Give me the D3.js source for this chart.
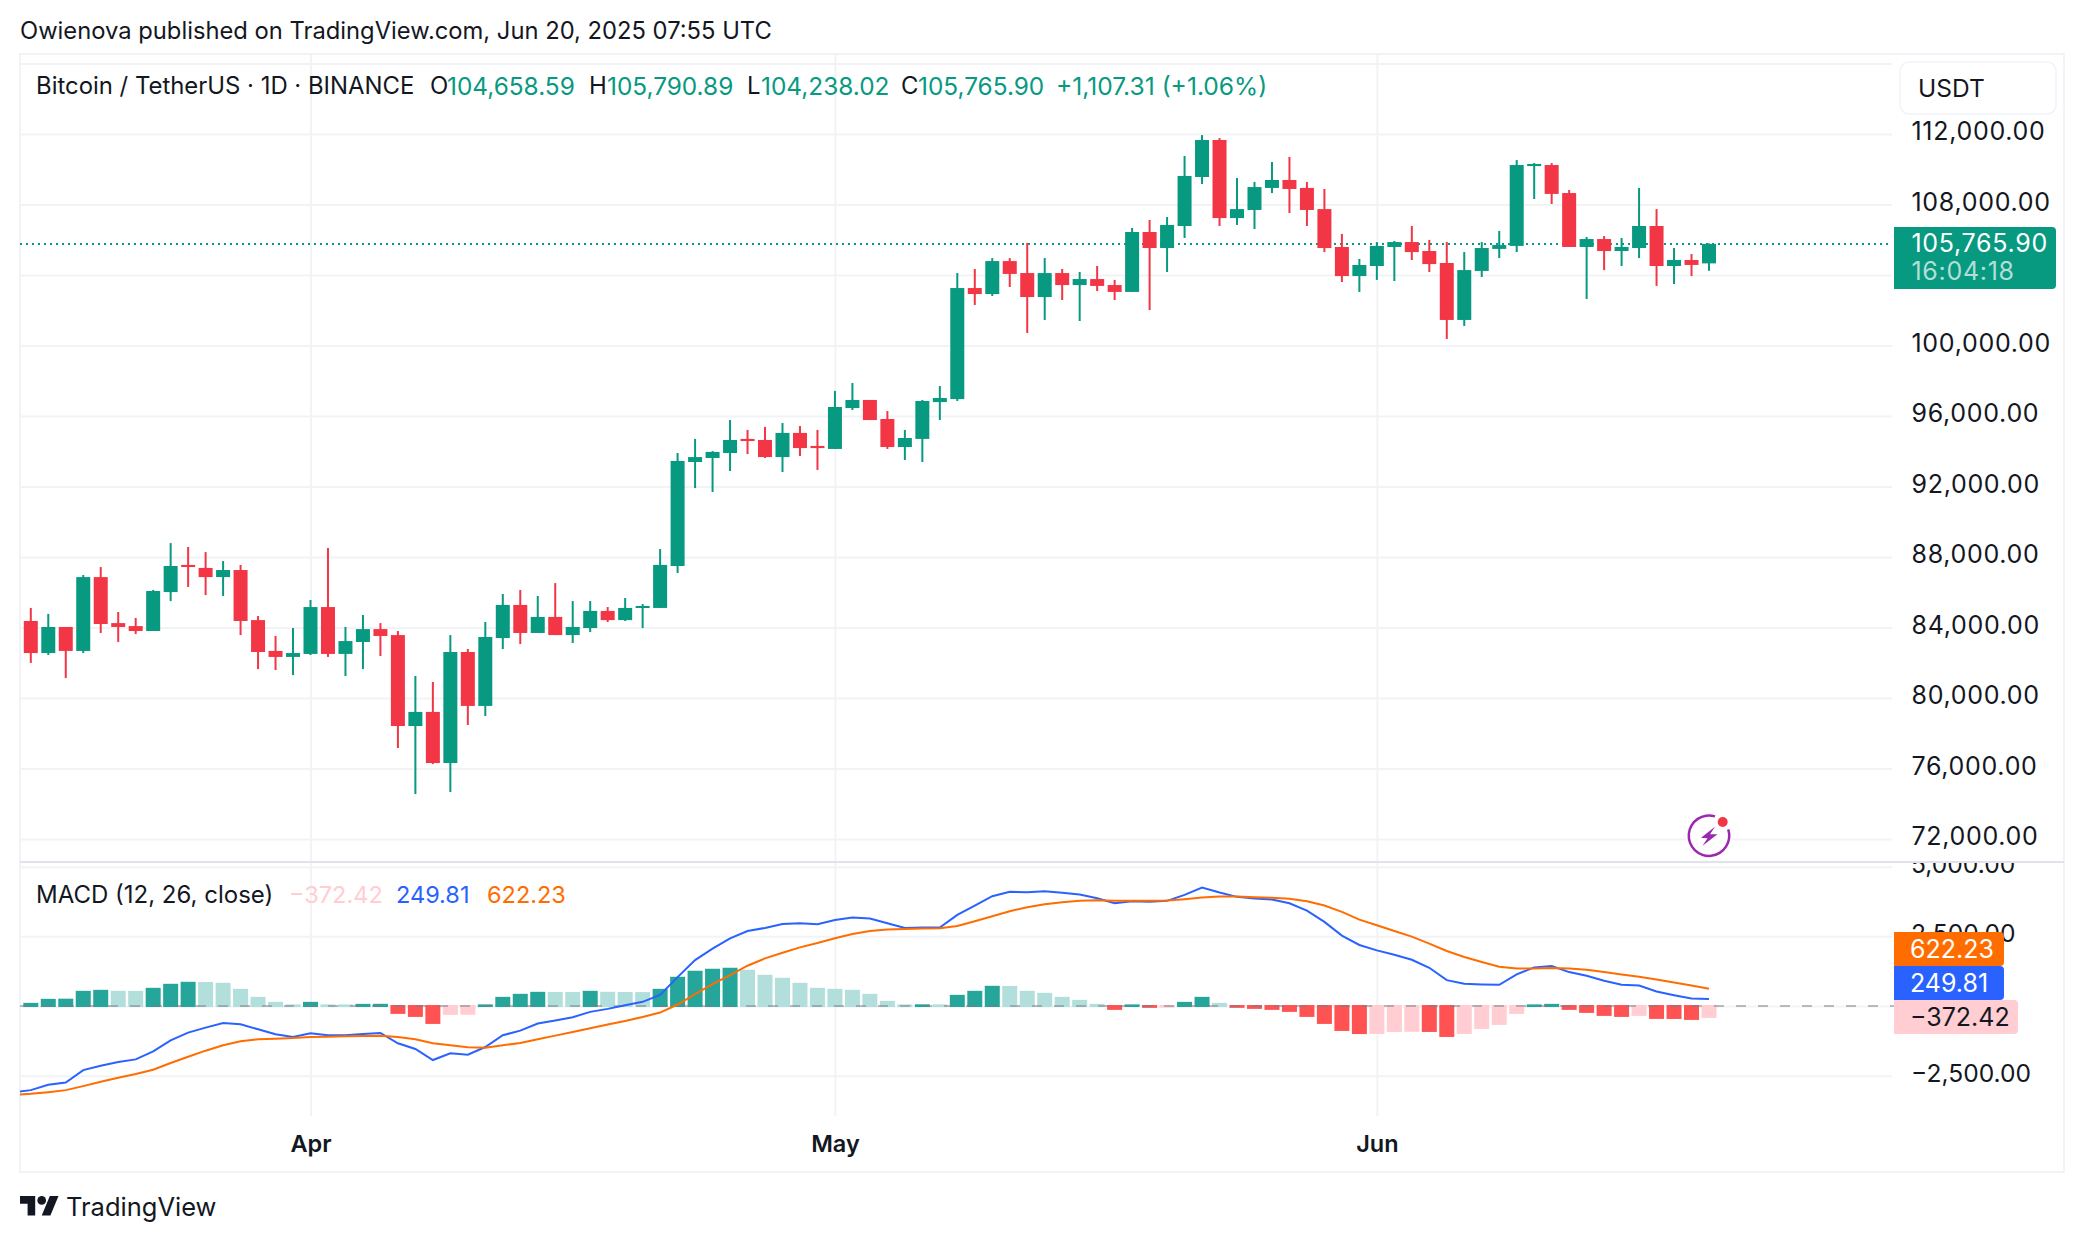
<!DOCTYPE html>
<html>
<head>
<meta charset="utf-8">
<script src="https://cdn.jsdelivr.net/npm/d3@7"></script>
<style>
  html, body { margin: 0; padding: 0; background: #fff; }
  svg { display: block; }
  text { font-family: Inter, "Noto Sans", sans-serif; fill: #131722; }
</style>
</head>
<body>
<svg id="chart" width="2084" height="1242"></svg>
<script>
const firstDay = '2025-03-16';
const lastDay = '2025-06-20';
const monthTicks = ['2025-04-01', '2025-05-01', '2025-06-01'];
const priceTicks = [72000, 76000, 80000, 84000, 88000, 92000, 96000, 100000, 104000, 108000, 112000, 116000];
const macdTicks = [-2500, 0, 2500, 5000];

const open = [84370,82550,84030,82670,86860,84250,84080,83800,86010,87550,87380,86860,87260,84420,82670,82330,82500,85160,82500,83180,83910,83570,78410,79210,76310,82610,79550,83400,85280,83690,84600,83570,83970,84940,84420,85110,85110,87490,93390,93620,93900,94700,94640,93670,95040,94300,94130,96450,96910,95830,94240,94700,96790,96960,103260,102920,104790,104110,102750,104110,103430,103770,103430,103040,106440,105530,106780,109560,111660,107230,107690,108940,109390,108940,107740,105590,103940,104510,105590,105870,105360,104680,101450,104230,105480,105650,110180,110240,108650,105590,106040,105360,105530,106780,104510,104850,104658.59];
const high = [85110,84770,84030,86980,87430,84880,84540,86130,88790,88570,88280,87770,87550,84650,83520,83970,85560,88510,84030,84710,84250,83800,81250,80910,83570,82780,84310,85900,86130,85790,86520,85500,85500,85160,85670,85330,88450,93900,94700,94010,95770,95210,95380,95600,95430,95210,97420,97870,96910,96280,95210,96910,97700,104110,104340,104960,104960,105820,104960,104340,104170,104510,103720,106670,107120,107290,110750,111940,111770,109500,109280,110410,110700,109280,108880,106330,104910,105870,105930,106780,105990,105870,105300,105870,106500,110520,110350,110350,108820,106160,106210,106100,108940,107740,105530,105190,105790.89];
const low = [81990,82440,81130,82550,83690,83180,83630,83800,85500,86300,85840,85790,83570,81640,81590,81300,82440,82330,81250,81640,82380,77160,74550,76250,74670,78470,78980,82780,83060,83690,83570,83120,83740,84310,84370,83970,85110,87090,91910,91690,92880,93840,93620,92820,93730,92940,94130,96340,95770,94130,93500,93390,95770,96850,102300,102810,103320,100710,101450,102580,101390,103090,102580,103040,102010,104170,106100,109160,106780,106840,106610,108650,107520,106780,105300,103600,103040,103720,103660,104850,104170,100370,101110,103890,104960,105300,108310,108030,105590,102640,104280,104510,104960,103380,103490,103940,104238.02];
const close = [82550,84030,82670,86860,84200,84030,83800,86070,87490,87430,86860,87260,84370,82610,82330,82550,85160,82500,83230,83910,83520,78410,79210,76310,82610,79550,83460,85280,83690,84600,83570,84030,84940,84420,85110,85220,87550,93450,93670,93960,94640,94580,93670,95040,94180,94180,96510,96910,95770,94240,94750,96850,97020,103260,102920,104790,104060,102750,104110,103430,103770,103380,103040,106440,105530,106840,109620,111660,107230,107740,108990,109390,108880,107690,105530,103940,104570,105650,105870,105300,104620,101450,104280,105530,105700,110240,110300,108600,105590,106040,105360,105590,106780,104510,104850,104570,105765.90];

const histogram = [60,204,210,492,528,492,490,600,744,816,810,780,564,276,96,5,96,5,4,24,26,-228,-336,-588,-264,-260,5,276,384,456,450,448,492,456,450,446,564,996,1212,1284,1320,1248,1068,960,780,600,564,528,384,132,5,8,5,348,492,672,668,492,420,276,168,24,-84,5,-12,-5,96,276,60,-12,-48,-84,-156,-336,-588,-840,-952,-948,-876,-870,-876,-1056,-948,-768,-624,-228,5,24,-84,-192,-300,-336,-300,-408,-410,-444,-372.42];
// macd and signal carry one extra leading day (Mar 15), its candle is off the chart
const macd = [-3102,-3018,-2826,-2742,-2298,-2142,-2010,-1914,-1626,-1230,-954,-774,-606,-654,-834,-1014,-1110,-978,-1050,-1050,-1002,-966,-1338,-1542,-1938,-1698,-1746,-1470,-1050,-882,-630,-522,-402,-210,-102,30,150,402,1038,1650,2058,2430,2694,2802,2946,2970,2934,3090,3174,3138,2970,2802,2814,2814,3270,3606,3942,4098,4086,4122,4062,4002,3870,3690,3762,3738,3774,3990,4254,4074,3918,3858,3822,3690,3426,3018,2526,2190,1998,1842,1662,1374,930,798,774,762,1134,1386,1434,1218,1086,906,762,738,522,390,270,249.81];
const signal = [-3186,-3150,-3090,-3018,-2874,-2718,-2574,-2442,-2286,-2046,-1818,-1602,-1410,-1266,-1194,-1170,-1146,-1110,-1098,-1086,-1074,-1062,-1110,-1194,-1338,-1410,-1482,-1494,-1410,-1326,-1194,-1062,-930,-798,-666,-534,-390,-234,54,426,786,1110,1446,1710,1914,2106,2262,2430,2586,2694,2742,2766,2778,2790,2874,3042,3222,3402,3546,3654,3726,3774,3798,3774,3774,3774,3786,3834,3894,3930,3930,3906,3882,3846,3762,3606,3378,3102,2898,2694,2490,2238,1974,1758,1578,1410,1350,1350,1362,1350,1302,1218,1134,1050,954,846,738,622.23];

const UP = '#089981';
const DOWN = '#f23645';
const GRID = '#f2f3f5';
const BORDER = '#e0e3eb';
const PLOT_LEFT = 20;
const PLOT_RIGHT = 1892;
const TIME_AXIS_Y = 1116;
const FONT = 23.5;
const AXIS_FONT = 25;
const AXIS_SPACING = 0.7;

const days = d3.utcDay.range(new Date(firstDay), d3.utcDay.offset(new Date(lastDay), 1));
const x = d3.scaleUtc().domain([new Date(firstDay), new Date(lastDay)]).range([30.8, 1709]);
const y = d3.scaleLinear().domain([72000, 112000]).range([839, 134]);
const yMacd = d3.scaleLinear().domain([-2500, 5000]).range([1075.7, 866.7]);
const fmt = d3.format(',.2f');

const svg = d3.select('#chart');
const defs = svg.append('defs');
defs.append('clipPath').attr('id', 'plot-clip').append('rect')
  .attr('x', PLOT_LEFT).attr('y', 54).attr('width', PLOT_RIGHT - PLOT_LEFT).attr('height', 1062);
defs.append('clipPath').attr('id', 'pane-clip').append('rect')
  .attr('x', PLOT_LEFT).attr('y', 863).attr('width', 2044).attr('height', 253);

svg.append('text').attr('x', 20).attr('y', 31).attr('dy', '.35em')
  .attr('font-size', 23.75).text('Owienova published on TradingView.com, Jun 20, 2025 07:55 UTC');

svg.append('rect').attr('x', 20).attr('y', 54).attr('width', 2044).attr('height', 1118)
  .attr('fill', 'none').attr('stroke', GRID).attr('stroke-width', 2);

// time axis, its ticks double as the vertical grid
const timeAxis = svg.append('g').attr('transform', `translate(0,${TIME_AXIS_Y})`)
  .call(d3.axisBottom(x)
    .tickValues(monthTicks.map(d => new Date(d)))
    .tickFormat(d3.utcFormat('%b'))
    .tickSize(-1062)
    .tickPadding(19));
timeAxis.select('.domain').remove();
timeAxis.selectAll('line').attr('stroke', GRID).attr('stroke-width', 2);
timeAxis.selectAll('text').attr('font-size', FONT).attr('font-weight', 600)
  .attr('font-family', 'Inter').attr('fill', '#131722');

// price axis
const priceAxis = svg.append('g').attr('transform', `translate(${PLOT_RIGHT},0)`)
  .call(d3.axisRight(y).tickValues(priceTicks).tickFormat(fmt)
    .tickSize(-(PLOT_RIGHT - PLOT_LEFT)).tickPadding(19.5));
priceAxis.select('.domain').remove();
priceAxis.selectAll('line').attr('stroke', GRID).attr('stroke-width', 2);
priceAxis.selectAll('text').attr('font-size', AXIS_FONT).attr('letter-spacing', AXIS_SPACING)
  .attr('font-family', 'Inter').attr('fill', '#131722').attr('y', -2.5);
// 116,000 is only a grid line, 104,000 sits under the last price tag
priceAxis.selectAll('.tick').filter(d => d > 112000 || d === 104000).select('text').remove();

// last price line
svg.append('line')
  .attr('x1', PLOT_LEFT).attr('x2', PLOT_RIGHT)
  .attr('y1', y(close[close.length - 1])).attr('y2', y(close[close.length - 1]))
  .attr('stroke', UP).attr('stroke-width', 2).attr('stroke-dasharray', '2 4');

// candles
const candles = svg.append('g').selectAll('g').data(days).join('g')
  .attr('fill', (d, i) => close[i] >= open[i] ? UP : DOWN);
candles.append('rect')
  .attr('x', d => x(d) - 1).attr('width', 2)
  .attr('y', (d, i) => y(high[i]))
  .attr('height', (d, i) => y(low[i]) - y(high[i]));
candles.append('rect')
  .attr('x', d => x(d) - 7).attr('width', 14)
  .attr('y', (d, i) => y(Math.max(open[i], close[i])))
  .attr('height', (d, i) => Math.max(2, Math.abs(y(open[i]) - y(close[i]))));

// lightning badge
const badge = svg.append('g').attr('transform', 'translate(1709,835.7)');
badge.append('circle').attr('r', 23).attr('fill', '#fff');
badge.append('path')
  .attr('d', d3.arc().innerRadius(19).outerRadius(21.5)
    .startAngle(72 * Math.PI / 180).endAngle(377 * Math.PI / 180)())
  .attr('fill', '#9c27b0');
badge.append('path').attr('d', 'M6,-9L1,-1.5L8.5,-1.5L-6.5,10L-1.5,2.5L-8,2Z').attr('fill', '#9c27b0');
badge.append('circle').attr('cx', 13.7).attr('cy', -13.7).attr('r', 5).attr('fill', DOWN);

// macd pane
svg.append('line').attr('x1', PLOT_LEFT).attr('x2', 2064).attr('y1', 862).attr('y2', 862)
  .attr('stroke', BORDER).attr('stroke-width', 2);

const macdAxis = svg.append('g').attr('clip-path', 'url(#pane-clip)').append('g')
  .attr('transform', `translate(${PLOT_RIGHT},0)`)
  .call(d3.axisRight(yMacd).tickValues(macdTicks).tickFormat(fmt)
    .tickSize(-(PLOT_RIGHT - PLOT_LEFT)).tickPadding(19));
macdAxis.select('.domain').remove();
macdAxis.selectAll('line').attr('stroke', GRID).attr('stroke-width', 2);
macdAxis.selectAll('text').attr('font-size', 24.6).attr('font-family', 'Inter')
  .attr('fill', '#131722').attr('y', -2.5);
macdAxis.selectAll('.tick').filter(d => d === 0).select('text').remove();

function histColor(v, i) {
  const prev = i > 0 ? histogram[i - 1] : 0;
  if (v >= 0) return v > prev ? '#26a69a' : '#b2dfdb';
  return v < prev ? '#ff5252' : '#ffcdd2';
}

svg.append('g').selectAll('rect').data(histogram).join('rect')
  .attr('x', (d, i) => x(days[i]) - 7.5).attr('width', 15)
  .attr('y', d => d >= 0 ? yMacd(d) - 1.5 : yMacd(0) - 1)
  .attr('height', d => d >= 0 ? yMacd(0) - yMacd(d) + 2.5 : yMacd(d) - yMacd(0) + 2.5)
  .attr('fill', histColor);

svg.append('line').attr('x1', PLOT_LEFT).attr('x2', 1894).attr('y1', yMacd(0)).attr('y2', yMacd(0))
  .attr('stroke', '#787b86').attr('stroke-opacity', 0.5).attr('stroke-width', 2)
  .attr('stroke-dasharray', '10 12');

const lineDays = [d3.utcDay.offset(days[0], -1), ...days];
const line = d3.line().x((d, i) => x(lineDays[i])).y(d => yMacd(d));
const lines = svg.append('g').attr('clip-path', 'url(#plot-clip)');
lines.append('path').attr('d', line(macd)).attr('fill', 'none').attr('stroke', '#2962ff').attr('stroke-width', 2);
lines.append('path').attr('d', line(signal)).attr('fill', 'none').attr('stroke', '#ff6d00').attr('stroke-width', 2);

// right side tags
function rightRounded(x0, y0, w, h, r) {
  return `M${x0},${y0}H${x0 + w - r}Q${x0 + w},${y0} ${x0 + w},${y0 + r}V${y0 + h - r}Q${x0 + w},${y0 + h} ${x0 + w - r},${y0 + h}H${x0}Z`;
}

svg.append('rect').attr('x', 1900).attr('y', 62).attr('width', 156).attr('height', 52).attr('rx', 9)
  .attr('fill', '#fff').attr('stroke', '#f0f3fa').attr('stroke-width', 1.5);
svg.append('text').attr('x', 1918).attr('y', 88).attr('dy', '.35em').attr('font-size', 24.5).text('USDT');

svg.append('path').attr('d', rightRounded(1894, 227, 162, 62, 4)).attr('fill', UP);
svg.append('text').attr('x', 1911.5).attr('y', 243).attr('dy', '.35em').attr('font-size', AXIS_FONT)
  .attr('letter-spacing', AXIS_SPACING).style('fill', '#fff').text(fmt(close[close.length - 1]));
svg.append('text').attr('x', 1911.5).attr('y', 271).attr('dy', '.35em').attr('font-size', AXIS_FONT)
  .attr('letter-spacing', AXIS_SPACING).style('fill', '#fff').style('fill-opacity', 0.7).text('16:04:18');

const tags = [
  { y0: 932, w: 110, color: '#ff6d00', text: '#fff', value: signal[signal.length - 1] },
  { y0: 966, w: 110, color: '#2962ff', text: '#fff', value: macd[macd.length - 1] },
  { y0: 1000, w: 124, color: '#ffcdd2', text: '#131722', value: histogram[histogram.length - 1] }
];
tags.forEach(t => {
  svg.append('path').attr('d', rightRounded(1894, t.y0, t.w, 34, 4)).attr('fill', t.color);
  svg.append('text').attr('x', 1910).attr('y', t.y0 + 17).attr('dy', '.35em').attr('font-size', 25)
    .style('fill', t.text).text(d3.format('.2f')(t.value));
});

// legends
function legendText(xPos, yPos, str, color, size) {
  svg.append('text').attr('x', xPos).attr('y', yPos).attr('dy', '.35em').attr('font-size', size || FONT)
    .style('fill', color || '#131722').text(str);
}
legendText(36, 86, 'Bitcoin / TetherUS · 1D · BINANCE', null, 23.9);
legendText(430, 86, 'O', null, 23.9);
legendText(447, 86, fmt(open[open.length - 1]), UP, 24.4);
legendText(589, 86, 'H', null, 23.9);
legendText(607, 86, fmt(high[high.length - 1]), UP, 24.4);
legendText(747, 86, 'L', null, 23.9);
legendText(761, 86, fmt(low[low.length - 1]), UP, 24.4);
legendText(901, 86, 'C', null, 23.9);
legendText(918, 86, fmt(close[close.length - 1]), UP, 24.4);
legendText(1056, 86, '+1,107.31 (+1.06%)', UP, 24.6);

legendText(36, 895, 'MACD (12, 26, close)', null, 24);
legendText(289, 895, d3.format('.2f')(histogram[histogram.length - 1]), '#ffcdd2');
legendText(396, 895, d3.format('.2f')(macd[macd.length - 1]), '#2962ff');
legendText(487, 895, d3.format('.2f')(signal[signal.length - 1]), '#ff6d00');

// footer logo
const logo = svg.append('g').attr('transform', 'translate(20,1191.7) scale(1.085)').attr('fill', '#131722');
logo.append('path').attr('d', 'M14 22H7V11H0V4h14v18zM28 22h-8l7.5-18h8L28 22z');
logo.append('circle').attr('cx', 20).attr('cy', 8).attr('r', 4);
svg.append('text').attr('x', 66).attr('y', 1216).attr('font-size', 25.5).text('TradingView');
</script>
</body>
</html>
